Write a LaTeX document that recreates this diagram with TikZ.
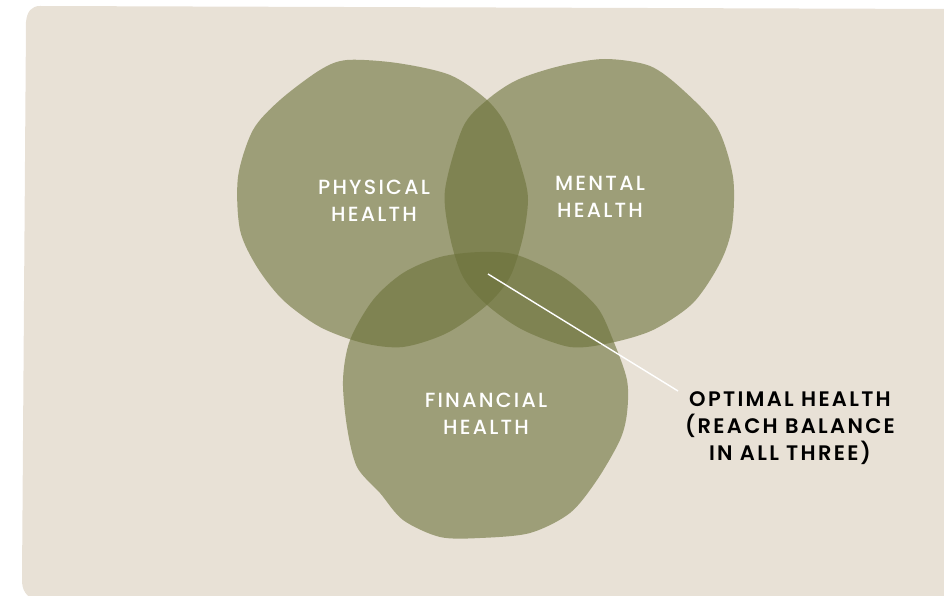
\documentclass[tikz,border=0pt]{standalone}
\usepackage{fontspec}
\setmainfont{Poppins}[LetterSpace=11, UprightFont=* Medium, BoldFont=* SemiBold]
\usepackage{tikz}
\usetikzlibrary{positioning}
\definecolor{sand}{RGB}{232,225,214}
\definecolor{moss}{RGB}{108,114,58}
\tikzset{
  blob/.style={fill=moss, fill opacity=0.6},
  label/.style={text=white, align=center, inner sep=0pt,
    font=\fontsize{20.5}{27}\selectfont},
  callout/.style={text=black, align=center, inner sep=0pt,
    font=\bfseries\fontsize{21}{27}\selectfont}
}

\begin{document}
\begin{tikzpicture}[x=1pt, y=-1pt]
      \useasboundingbox (0,0) rectangle (944,596);
      \fill[sand] (40,6) -- (950,9) -- (950,600) -- (36,600)
        .. controls (26,597) and (22,590) .. (22,580) -- (26,22)
        .. controls (27,11) and (32,6) .. (40,6) -- cycle;
      \fill[blob] plot[smooth cycle] coordinates {
        (347,60) (397,63) (450,75) (487,100) (507,127) (523,173) (528,200)
        (523,237) (510,277) (487,305) (447,333) (403,347) (363,343) (320,327)
        (283,300) (257,267) (240,230) (238,177) (253,130) (280,100) (320,70)};
      \fill[blob] plot[smooth cycle] coordinates {
        (605,59) (650,66) (683,90) (717,127) (733,177) (732,227) (720,263)
        (693,303) (653,330) (610,343) (570,347) (523,330) (487,305) (463,277)
        (450,237) (445,190) (463,127) (487,100) (517,80) (560,66)};
      \fill[blob] plot[smooth cycle] coordinates {
        (480,252) (517,255) (563,277) (597,307) (613,340) (627,380) (627,413)
        (620,440) (597,480) (570,513) (530,533) (480,538) (440,537) (403,520)
        (380,493) (357,467) (347,427) (343,380) (350,340) (373,300) (403,273)
        (440,257)};
      \node[label] (physical) at (374,201) {PHYSICAL\\HEALTH};
      \node[label] (mental) at (600,197) {MENTAL\\HEALTH};
      \node[label] (financial) at (486,414) {FINANCIAL\\HEALTH};
      \node[callout] (optimal) at (790,428) {OPTIMAL HEALTH\\(REACH BALANCE\\IN ALL THREE)};
      \coordinate (core) at (488,274);
      \coordinate (tip) at (678,391);
      \draw[white, line width=1.4pt] (core) -- (tip);
    \end{tikzpicture}
\end{document}
